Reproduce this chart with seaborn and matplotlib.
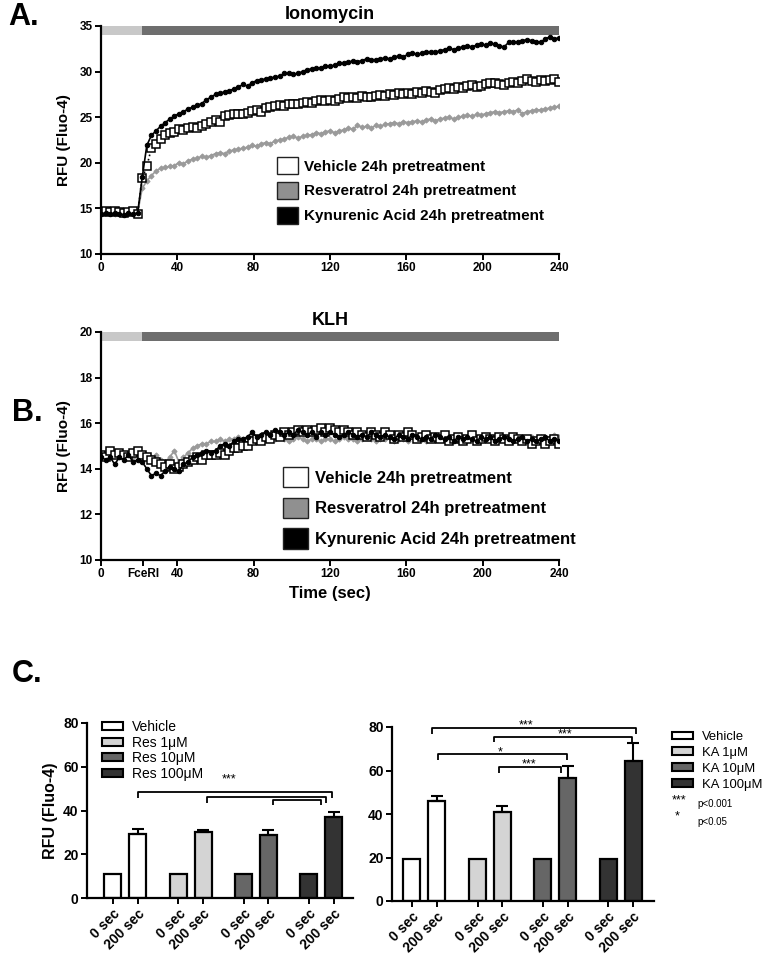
import numpy as np
import matplotlib
matplotlib.use("Agg")
import matplotlib.pyplot as plt
from matplotlib.patches import Patch
import seaborn as sns

sns.set_theme(style="ticks")
plt.rcParams['font.family'] = ['Liberation Sans', 'DejaVu Sans']
plt.rcParams['text.color'] = 'black'
plt.rcParams['axes.labelcolor'] = 'black'
plt.rcParams['xtick.color'] = 'black'
plt.rcParams['ytick.color'] = 'black'

# ---------------- data ----------------
time_s = np.round(np.arange(101) * 2.4, 1)

iono_vehicle = [14.6, 14.7, 14.6, 14.7, 14.6, 14.5, 14.6, 14.7, 14.4, 18.3,
                19.6, 21.6, 22.1, 22.6, 23.0, 23.3, 23.4, 23.7, 23.6, 23.8,
                23.9, 23.8, 24.0, 24.3, 24.5, 24.7, 24.5, 25.1, 25.2, 25.3,
                25.4, 25.4, 25.5, 25.7, 25.8, 25.6, 26.0, 26.1, 26.2, 26.3,
                26.2, 26.4, 26.5, 26.5, 26.6, 26.7, 26.6, 26.8, 26.9, 26.8,
                26.9, 26.8, 27.0, 27.2, 27.1, 27.2, 27.1, 27.3, 27.2, 27.2,
                27.3, 27.4, 27.3, 27.5, 27.4, 27.6, 27.5, 27.7, 27.5, 27.8,
                27.7, 27.9, 27.8, 27.7, 28.0, 28.1, 28.2, 28.1, 28.3, 28.2,
                28.4, 28.5, 28.3, 28.4, 28.6, 28.7, 28.8, 28.6, 28.5, 28.7,
                28.9, 28.8, 29.0, 29.2, 29.0, 28.9, 29.1, 29.0, 29.1, 29.2,
                28.9]
iono_res = [14.5, 14.6, 14.5, 14.4, 14.5, 14.6, 14.5, 14.4, 14.5, 17.2,
            18.0, 18.6, 19.1, 19.4, 19.5, 19.6, 19.7, 20.0, 19.9, 20.2,
            20.4, 20.5, 20.7, 20.6, 20.8, 21.0, 21.1, 21.0, 21.3, 21.4,
            21.5, 21.6, 21.7, 21.9, 21.8, 22.1, 22.2, 22.1, 22.4, 22.5,
            22.6, 22.8, 22.9, 22.7, 22.9, 23.0, 23.1, 23.3, 23.2, 23.4,
            23.5, 23.3, 23.5, 23.6, 23.8, 23.7, 24.1, 23.9, 24.0, 23.8,
            24.1, 24.0, 24.2, 24.3, 24.4, 24.3, 24.5, 24.4, 24.5, 24.6,
            24.5, 24.7, 24.8, 24.6, 24.8, 24.9, 25.0, 24.8, 25.0, 25.1,
            25.2, 25.1, 25.3, 25.2, 25.4, 25.5, 25.6, 25.5, 25.6, 25.7,
            25.6, 25.8, 25.4, 25.6, 25.7, 25.8, 25.8, 25.9, 26.0, 26.1,
            26.2]
iono_ka = [14.4, 14.5, 14.4, 14.5, 14.4, 14.3, 14.5, 14.4, 14.5, 18.4,
           21.9, 23.0, 23.5, 24.0, 24.4, 24.8, 25.1, 25.4, 25.6, 25.9,
           26.1, 26.3, 26.5, 26.9, 27.2, 27.5, 27.6, 27.8, 27.9, 28.1,
           28.3, 28.6, 28.4, 28.8, 29.0, 29.1, 29.2, 29.3, 29.4, 29.5,
           29.8, 29.8, 29.7, 29.8, 30.0, 30.2, 30.3, 30.4, 30.4, 30.6,
           30.6, 30.7, 30.9, 30.9, 31.0, 31.2, 31.1, 31.2, 31.4, 31.3,
           31.3, 31.4, 31.5, 31.4, 31.6, 31.7, 31.6, 31.9, 32.0, 31.9,
           32.0, 32.1, 32.2, 32.1, 32.3, 32.4, 32.6, 32.4, 32.6, 32.7,
           32.8, 32.7, 32.9, 33.0, 32.9, 33.1, 33.0, 32.8, 32.7, 33.2,
           33.3, 33.2, 33.4, 33.5, 33.4, 33.3, 33.2, 33.6, 33.8, 33.6,
           33.7]

klh_vehicle = [14.6, 14.5, 14.8, 14.6, 14.7, 14.6, 14.5, 14.7, 14.8, 14.6,
               14.5, 14.4, 14.3, 14.2, 14.1, 14.2, 14.0, 14.1, 14.2, 14.3,
               14.4, 14.5, 14.4, 14.6, 14.6, 14.6, 14.7, 14.6, 14.8, 14.9,
               14.9, 15.0, 15.0, 15.2, 15.3, 15.2, 15.4, 15.3, 15.5, 15.4,
               15.6, 15.5, 15.6, 15.7, 15.6, 15.7, 15.6, 15.7, 15.8, 15.6,
               15.8, 15.7, 15.6, 15.7, 15.6, 15.5, 15.6, 15.5, 15.4, 15.6,
               15.5, 15.4, 15.6, 15.5, 15.3, 15.5, 15.4, 15.6, 15.5, 15.3,
               15.4, 15.5, 15.3, 15.4, 15.3, 15.5, 15.2, 15.3, 15.4, 15.2,
               15.3, 15.5, 15.2, 15.3, 15.4, 15.3, 15.2, 15.4, 15.3, 15.2,
               15.4, 15.3, 15.2, 15.3, 15.1, 15.2, 15.3, 15.1, 15.2, 15.3,
               15.1]
klh_res = [14.6, 14.6, 14.7, 14.6, 14.5, 14.6, 14.6, 14.5, 14.6, 14.6,
           14.5, 14.5, 14.6, 14.4, 14.3, 14.5, 14.8, 14.3, 14.5, 14.7,
           14.9, 15.0, 15.1, 15.1, 15.2, 15.2, 15.3, 15.2, 15.3, 15.3,
           15.4, 15.3, 15.4, 15.4, 15.3, 15.4, 15.3, 15.4, 15.3, 15.4,
           15.3, 15.2, 15.3, 15.4, 15.3, 15.2, 15.3, 15.3, 15.2, 15.3,
           15.3, 15.2, 15.3, 15.4, 15.3, 15.3, 15.2, 15.3, 15.4, 15.3,
           15.2, 15.3, 15.3, 15.4, 15.2, 15.3, 15.3, 15.2, 15.4, 15.3,
           15.3, 15.2, 15.3, 15.4, 15.3, 15.2, 15.3, 15.3, 15.2, 15.4,
           15.3, 15.3, 15.2, 15.3, 15.4, 15.3, 15.2, 15.3, 15.4, 15.3,
           15.3, 15.4, 15.3, 15.2, 15.4, 15.3, 15.4, 15.3, 15.4, 15.5,
           15.4]
klh_ka = [14.5, 14.4, 14.5, 14.2, 14.5, 14.4, 14.6, 14.3, 14.4, 14.3,
          14.0, 13.7, 13.8, 13.7, 13.9, 14.1, 14.0, 13.9, 14.2, 14.3,
          14.5, 14.6, 14.7, 14.8, 14.7, 14.8, 15.0, 15.1, 15.0, 15.2,
          15.3, 15.3, 15.4, 15.6, 15.4, 15.5, 15.6, 15.5, 15.7, 15.6,
          15.5, 15.6, 15.5, 15.7, 15.6, 15.5, 15.6, 15.4, 15.6, 15.5,
          15.6, 15.5, 15.4, 15.5, 15.6, 15.5, 15.4, 15.5, 15.4, 15.6,
          15.5, 15.4, 15.5, 15.4, 15.3, 15.5, 15.4, 15.3, 15.5, 15.4,
          15.3, 15.4, 15.3, 15.5, 15.4, 15.3, 15.4, 15.2, 15.4, 15.3,
          15.4, 15.3, 15.2, 15.4, 15.3, 15.4, 15.2, 15.3, 15.4, 15.3,
          15.2, 15.3, 15.4, 15.2, 15.3, 15.2, 15.3, 15.4, 15.2, 15.3,
          15.2]

series_labels = ["Vehicle 24h pretreatment", "Resveratrol 24h pretreatment",
                 "Kynurenic Acid 24h pretreatment"]

bar_tick_labels = ["0 sec", "200 sec"] * 4
bar_pos = [0, 1, 2.64, 3.64, 5.27, 6.27, 7.9, 8.9]
res_groups = ["Vehicle", "Res 1μM", "Res 10μM", "Res 100μM"]
res_vals = [11.0, 29.2, 11.0, 30.0, 11.0, 28.8, 11.0, 37.2]
res_err200 = [2.3, 0.9, 2.2, 2.3]
ka_groups = ["Vehicle", "KA 1μM", "KA 10μM", "KA 100μM"]
ka_vals = [19.4, 46.2, 19.4, 40.7, 19.4, 56.4, 19.4, 64.2]
ka_err200 = [2.1, 3.2, 5.6, 8.5]
group_colors = ["#ffffff", "#d4d4d4", "#666666", "#333333"]

# ---------------- figure ----------------
fig = plt.figure(figsize=(7.62, 9.56), dpi=100)
W, H = 762.0, 956.0

def ax_px(l, r, t, b):
    return fig.add_axes([l / W, 1 - b / H, (r - l) / W, (b - t) / H])

axA = ax_px(101, 559, 26, 254)
axB = ax_px(101, 559, 332, 560)
axC1 = ax_px(87, 353, 723, 898)
axC2 = ax_px(392, 654, 727, 901)

def style_axes(ax, fs=8.5):
    sns.despine(ax=ax)
    for s in ("left", "bottom"):
        ax.spines[s].set_linewidth(1.6)
        ax.spines[s].set_color("black")
    ax.tick_params(axis="both", direction="out", length=4, width=1.4,
                   color="black", labelcolor="black", labelsize=fs, pad=2)
    for lab in ax.get_xticklabels() + ax.get_yticklabels():
        lab.set_fontweight("bold")

def time_panel(ax, veh, res, ka, ylim, yticks, bar_y, bar_h, xticks, xticklabels,
               title, leg_anchor, leg_fs, hl, lsp):
    sns.lineplot(x=time_s, y=res, ax=ax, color="#9a9a9a", lw=1.2, marker="D",
                 markersize=2.6, markeredgecolor="#9a9a9a", markerfacecolor="#9a9a9a")
    sns.lineplot(x=time_s, y=veh, ax=ax, color="black", lw=1.2, linestyle=":",
                 marker="s", markersize=5.4, markerfacecolor="white",
                 markeredgecolor="black", markeredgewidth=1.1)
    sns.lineplot(x=time_s, y=ka, ax=ax, color="black", lw=1.2, marker="o",
                 markersize=3.2, markeredgecolor="black", markerfacecolor="black")
    ax.broken_barh([(0, 21.5)], (bar_y, bar_h), facecolor="#c8c8c8", edgecolor="none")
    ax.broken_barh([(21.5, 218.5)], (bar_y, bar_h), facecolor="#6e6e6e", edgecolor="none")
    ax.set_xlim(0, 240)
    ax.set_ylim(*ylim)
    ax.set_yticks(yticks)
    ax.set_xticks(xticks)
    ax.set_xticklabels(xticklabels)
    ax.set_xlabel("")
    ax.set_ylabel("RFU (Fluo-4)", fontsize=11, fontweight="bold", labelpad=6)
    ax.set_title(title, fontsize=13, fontweight="bold", pad=5)
    style_axes(ax)
    handles = [Patch(facecolor=c, edgecolor="#222222", linewidth=1.0)
               for c in ("#ffffff", "#909090", "#000000")]
    fig.legend(handles, series_labels, loc="upper left",
               bbox_to_anchor=(leg_anchor[0] / W, 1 - leg_anchor[1] / H),
               frameon=False, borderpad=0, borderaxespad=0,
               prop={"size": leg_fs, "weight": "bold"},
               handlelength=hl, handleheight=hl, handletextpad=0.4,
               labelspacing=lsp)

time_panel(axA, iono_vehicle, iono_res, iono_ka, (10, 35), [10, 15, 20, 25, 30, 35],
           34.0, 1.0, [0, 40, 80, 120, 160, 200, 240],
           ["0", "40", "80", "120", "160", "200", "240"], "Ionomycin",
           (277, 157), 11, 1.35, 0.5)
time_panel(axB, klh_vehicle, klh_res, klh_ka, (10, 20), [10, 12, 14, 16, 18, 20],
           19.6, 0.4, [0, 22, 40, 80, 120, 160, 200, 240],
           ["0", "FceRI", "40", "80", "120", "160", "200", "240"], "KLH",
           (283, 467), 12, 1.5, 0.62)
axB.set_xlabel("Time (sec)", fontsize=12, fontweight="bold", labelpad=4)

def bar_panel(ax, groups, vals, err200, xlim, ylabel):
    hue = [g for g in groups for _ in range(2)]
    sns.barplot(x=bar_pos, y=vals, hue=hue, hue_order=groups,
                palette=dict(zip(groups, group_colors)), native_scale=True,
                width=0.68, dodge=False, errorbar=None, edgecolor="black",
                linewidth=1.6, legend=False, ax=ax)
    ax.errorbar(bar_pos[1::2], vals[1::2], yerr=[[0] * 4, err200], fmt="none",
                ecolor="black", elinewidth=1.5, capsize=4, capthick=1.5, zorder=1)
    ax.set_xlim(*xlim)
    ax.set_ylim(0, 80)
    ax.set_yticks([0, 20, 40, 60, 80])
    ax.set_xticks(bar_pos)
    ax.set_xticklabels(bar_tick_labels, rotation=45, ha="right",
                       rotation_mode="anchor")
    ax.set_xlabel("")
    if ylabel:
        ax.set_ylabel("RFU (Fluo-4)", fontsize=11.5, fontweight="bold", labelpad=4)
    style_axes(ax, fs=10)

bar_panel(axC1, res_groups, res_vals, res_err200, (-1.04, 9.68), True)
bar_panel(axC2, ka_groups, ka_vals, ka_err200, (-0.8, 9.74), False)

def bracket(ax, x0, x1, y, drop, lw=1.3):
    ax.plot([x0, x0, x1, x1], [y - drop, y, y, y - drop], color="black", lw=lw,
            solid_capstyle="butt", clip_on=False)

bracket(axC1, 1.0, 8.85, 48.3, 2.4)
bracket(axC1, 3.8, 8.6, 46.3, 2.7)
bracket(axC1, 6.45, 8.4, 44.6, 2.2)
axC1.text(4.68, 54.3, "***", ha="center", va="center", fontsize=9)

bracket(axC2, 0.8, 9.0, 79.4, 2.5)
bracket(axC2, 3.32, 8.85, 75.4, 2.3)
bracket(axC2, 1.05, 6.23, 67.5, 2.8)
bracket(axC2, 3.52, 5.99, 61.6, 2.7)
axC2.text(4.59, 80.6, "***", ha="center", va="center", fontsize=9)
axC2.text(6.15, 76.6, "***", ha="center", va="center", fontsize=9)
axC2.text(3.55, 68.4, "*", ha="center", va="center", fontsize=9)
axC2.text(4.72, 62.8, "***", ha="center", va="center", fontsize=9)

def bar_legend(groups, anchor, fs, lsp):
    handles = [Patch(facecolor=c, edgecolor="black", linewidth=1.5)
               for c in group_colors]
    fig.legend(handles, groups, loc="upper left",
               bbox_to_anchor=(anchor[0] / W, 1 - anchor[1] / H),
               frameon=False, borderpad=0, borderaxespad=0,
               prop={"size": fs}, handlelength=1.5 * 10 / fs,
               handleheight=0.5 * 10 / fs, handletextpad=0.65 * 10 / fs,
               labelspacing=lsp)

bar_legend(res_groups, (102, 720), 10, 0.12)
bar_legend(ka_groups, (672, 731), 9.4, 0.3)
fig.text(672 / W, 1 - 800 / H, "***", fontsize=9, va="center", ha="left")
fig.text(697 / W, 1 - 804 / H, "p<0.001", fontsize=7, va="center", ha="left")
fig.text(675 / W, 1 - 816 / H, "*", fontsize=9, va="center", ha="left")
fig.text(697 / W, 1 - 822 / H, "p<0.05", fontsize=7, va="center", ha="left")

fig.text(8 / W, 1 - 17 / H, "A.", fontsize=22, fontweight="bold", va="center")
fig.text(12 / W, 1 - 413 / H, "B.", fontsize=22, fontweight="bold", va="center")
fig.text(12 / W, 1 - 674 / H, "C.", fontsize=22, fontweight="bold", va="center")

fig.savefig("out.png", dpi=100)
